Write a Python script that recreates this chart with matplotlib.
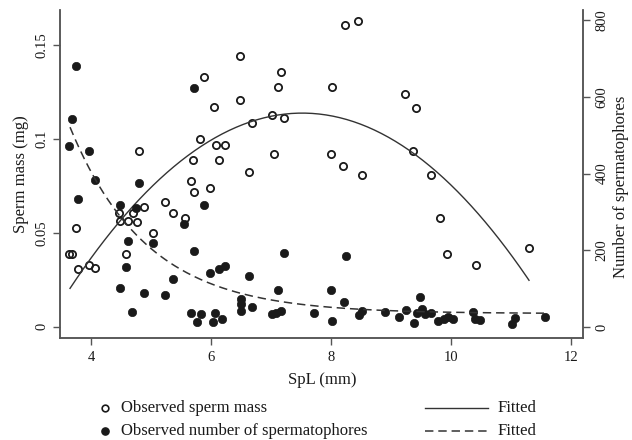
import numpy as np
import matplotlib
matplotlib.use("Agg")
import matplotlib.pyplot as plt
from matplotlib.lines import Line2D

plt.rcParams['font.family'] = ['Liberation Serif', 'DejaVu Serif']
plt.rcParams['font.size'] = 10

# ---- observed sperm mass (open circles) ----
mass_spl = [3.63, 3.69, 3.75, 3.79, 3.96, 4.06, 4.47, 4.48, 4.61, 4.76, 4.70, 4.89,
            4.58, 5.04, 5.23, 5.36, 5.57, 4.80, 5.66, 5.72, 5.99, 5.70, 6.13, 6.64,
            5.81, 6.09, 6.24, 6.05, 5.89, 6.49, 6.49, 6.68, 7.01, 7.16, 7.11, 7.21,
            7.05, 8.24, 8.45, 8.01, 8.00, 8.20, 8.51, 9.24, 9.42, 9.36, 9.67, 9.82,
            9.93, 10.42, 11.30]
mass_mg = [0.0387, 0.0387, 0.0526, 0.0307, 0.0326, 0.0315, 0.0604, 0.0563, 0.0564,
           0.0558, 0.0607, 0.0639, 0.0387, 0.0497, 0.0666, 0.0607, 0.0577, 0.0937,
           0.0776, 0.0717, 0.0736, 0.0885, 0.0885, 0.0825, 0.0998, 0.0968, 0.0968,
           0.1168, 0.1328, 0.1440, 0.1207, 0.1086, 0.1127, 0.1358, 0.1278, 0.1110,
           0.0918, 0.1607, 0.1629, 0.1278, 0.0918, 0.0857, 0.0809, 0.1237, 0.1166,
           0.0937, 0.0808, 0.0577, 0.0385, 0.0326, 0.0417]

# ---- observed number of spermatophores (filled circles) ----
num_spl = [3.75, 3.68, 3.63, 3.97, 4.06, 4.80, 3.79, 4.48, 4.75, 4.61, 5.04, 4.58,
           4.48, 4.89, 4.69, 5.23, 5.36, 5.55, 5.71, 5.88, 5.71, 7.21, 5.98, 6.13,
           6.24, 6.64, 7.11, 6.50, 6.50, 6.50, 6.68, 5.66, 5.83, 5.76, 6.06, 6.03,
           6.18, 7.01, 7.08, 7.17, 7.71, 8.00, 8.25, 8.21, 8.01, 8.46, 8.51, 8.90,
           9.14, 9.25, 9.39, 9.49, 9.51, 9.43, 9.57, 9.66, 9.78, 9.88, 9.95, 10.04,
           10.37, 10.40, 10.48, 11.01, 11.06, 11.56]
num_sp = [681, 542, 472, 459, 383, 376, 333, 318, 311, 225, 220, 156, 101, 89, 40,
          83, 124, 268, 622, 317, 198, 192, 142, 150, 159, 133, 96, 72, 59, 42, 51,
          36, 34, 14, 37, 12, 22, 34, 37, 42, 37, 96, 185, 64, 15, 30, 42, 40, 27,
          44, 11, 77, 46, 37, 34, 36, 16, 22, 26, 20, 38, 22, 17, 8, 23, 27]

# ---- fitted models (coefficients) ----
mass_fit_coefs = [-0.00623, 0.0937, -0.2386]      # quadratic in SpL
mass_fit_range = (3.65, 11.3)
num_fit_asym, num_fit_amp, num_fit_rate, num_fit_x0 = 35.0, 486.0, 0.78, 3.65
num_fit_range = (3.65, 11.55)

x_ticks = [4, 6, 8, 10, 12]
mass_ticks = [0, 0.05, 0.1, 0.15]
mass_tick_labels = ["0", "0.05", "0.1", "0.15"]
num_ticks = [0, 200, 400, 600, 800]

W, H = 632, 440
fig = plt.figure(figsize=(W / 100, H / 100), dpi=100)
L, R, B, T = 60, 583, 338, 10
ax = fig.add_axes([L / W, 1 - B / H, (R - L) / W, (B - T) / H])
ax2 = ax.twinx()

ink = '#1a1a1a'
spine_c = '#555555'
tick_fs = 10.5
lab_fs = 12

ax.set_xlim(3.483, 12.2)
ax.set_ylim(-0.00602, 0.1686)
ax2.set_ylim(-28.7, 826.6)

ms_open = 5.2
ms_fill = 6.0
ax2.plot(num_spl, num_sp, 'o', ms=ms_fill, mfc=ink, mec=ink, mew=0.5, zorder=3)
ax.plot(mass_spl, mass_mg, 'o', ms=ms_open, mfc='none', mec=ink, mew=1.3, zorder=3)

xm = np.linspace(*mass_fit_range, 200)
ax.plot(xm, np.polyval(mass_fit_coefs, xm), '-', color='#333333', lw=1.0, zorder=4)
xn = np.linspace(*num_fit_range, 200)
yn = num_fit_asym + num_fit_amp * np.exp(-num_fit_rate * (xn - num_fit_x0))
ax2.plot(xn, yn, color='#333333', lw=1.1, dashes=(5.5, 3.2), zorder=4)

for a in (ax, ax2):
    a.spines['top'].set_visible(False)
    for s in ('left', 'right', 'bottom'):
        a.spines[s].set_color(spine_c)
        a.spines[s].set_linewidth(1.1)
ax.set_xticks(x_ticks)
ax.set_yticks(mass_ticks)
ax.set_yticklabels(mass_tick_labels, rotation=90, va='center')
ax2.set_yticks(num_ticks)
ax2.set_yticklabels([str(v) for v in num_ticks], rotation=90, va='center')
ax.tick_params(axis='x', length=5, width=1.0, color=spine_c, pad=4, labelsize=tick_fs, labelcolor=ink)
ax.tick_params(axis='y', length=5, width=1.0, color=spine_c, pad=3, labelsize=tick_fs, labelcolor=ink)
ax2.tick_params(axis='y', length=5, width=1.0, color=spine_c, pad=4, labelsize=tick_fs, labelcolor=ink)

fig.text(322 / W, 1 - 380 / H, "SpL (mm)", ha='center', va='center', color=ink, fontsize=lab_fs)
fig.text(21 / W, 1 - 174 / H, "Sperm mass (mg)", ha='center', va='center', rotation=90, color=ink, fontsize=lab_fs)
fig.text(621 / W, 1 - 187 / H, "Number of spermatophores", ha='center', va='center', rotation=90, color=ink, fontsize=lab_fs)

# legend (drawn manually below the plot)
def fx(px):
    return px / W

def fy(py):
    return 1 - py / H

r1, r2 = 408, 431
fig.add_artist(Line2D([fx(105)], [fy(r1)], marker='o', ms=4.8, mfc='none', mec=ink, mew=1.2, ls='none'))
fig.add_artist(Line2D([fx(105)], [fy(r2)], marker='o', ms=5.2, mfc=ink, mec=ink, ls='none'))
fig.text(fx(121), fy(r1), "Observed sperm mass", ha='left', va='center', color=ink, fontsize=lab_fs)
fig.text(fx(121), fy(r2), "Observed number of spermatophores", ha='left', va='center', color=ink, fontsize=lab_fs)
fig.add_artist(Line2D([fx(425), fx(488)], [fy(r1), fy(r1)], color='#333333', lw=1.0))
fig.add_artist(Line2D([fx(425), fx(488)], [fy(r2), fy(r2)], color='#333333', lw=1.1, dashes=(5.5, 3.2)))
fig.text(fx(498), fy(r1), "Fitted", ha='left', va='center', color=ink, fontsize=lab_fs)
fig.text(fx(498), fy(r2), "Fitted", ha='left', va='center', color=ink, fontsize=lab_fs)

fig.savefig("out.png", dpi=100)
